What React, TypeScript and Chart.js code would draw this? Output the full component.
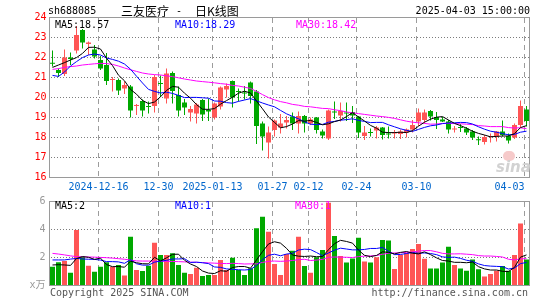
import React, { useEffect, useRef } from 'react';
import { Chart, registerables } from 'chart.js';

Chart.register(...registerables);

// ---------- data ----------
const DATES = [
  '2024-12-04','2024-12-05','2024-12-06','2024-12-09','2024-12-10','2024-12-11','2024-12-12','2024-12-13','2024-12-16','2024-12-17',
  '2024-12-18','2024-12-19','2024-12-20','2024-12-23','2024-12-24','2024-12-25','2024-12-26','2024-12-27','2024-12-30','2024-12-31',
  '2025-01-02','2025-01-03','2025-01-06','2025-01-07','2025-01-08','2025-01-09','2025-01-10','2025-01-13','2025-01-14','2025-01-15',
  '2025-01-16','2025-01-17','2025-01-20','2025-01-21','2025-01-22','2025-01-23','2025-01-24','2025-01-27','2025-02-05','2025-02-06',
  '2025-02-07','2025-02-10','2025-02-11','2025-02-12','2025-02-13','2025-02-14','2025-02-17','2025-02-18','2025-02-19','2025-02-20',
  '2025-02-21','2025-02-24','2025-02-25','2025-02-26','2025-02-27','2025-02-28','2025-03-03','2025-03-04','2025-03-05','2025-03-06',
  '2025-03-07','2025-03-10','2025-03-11','2025-03-12','2025-03-13','2025-03-14','2025-03-17','2025-03-18','2025-03-19','2025-03-20',
  '2025-03-21','2025-03-24','2025-03-25','2025-03-26','2025-03-27','2025-03-28','2025-03-31','2025-04-01','2025-04-02','2025-04-03',
];

const OPEN = [
  21.70, 21.35, 21.15, 21.98, 22.32, 23.35, 22.65, 22.38, 21.85, 21.60,
  20.85, 20.85, 20.43, 20.52, 19.55, 19.80, 19.55, 19.55, 20.70, 19.93,
  21.20, 20.10, 19.72, 19.22, 19.18, 19.85, 19.35, 18.98, 19.52, 20.38,
  20.80, 20.28, 20.20, 20.72, 20.27, 18.68, 17.72, 18.35, 18.48, 18.72,
  19.02, 18.68, 19.05, 18.68, 18.97, 18.27, 17.93, 19.25, 19.07, 19.20,
  19.25, 19.02, 18.05, 18.25, 18.32, 18.47, 18.15, 18.18, 18.15, 18.22,
  18.38, 18.77, 18.85, 19.30, 19.00, 18.88, 18.77, 18.37, 18.48, 18.43,
  18.27, 17.87, 17.75, 18.00, 18.02, 18.27, 18.05, 17.98, 18.60, 19.38,
];
const HIGH = [
  22.32, 21.43, 22.38, 22.22, 23.55, 23.40, 22.78, 22.60, 22.05, 22.20,
  21.00, 20.93, 20.77, 20.60, 19.65, 19.88, 19.77, 21.10, 21.08, 21.43,
  21.27, 20.52, 19.90, 19.55, 19.70, 19.90, 19.93, 19.72, 20.52, 20.68,
  20.82, 20.43, 20.55, 20.77, 20.35, 18.77, 18.52, 18.88, 19.15, 19.05,
  19.22, 19.27, 19.10, 18.98, 19.00, 18.37, 19.37, 19.77, 19.72, 19.72,
  19.55, 19.05, 18.55, 18.43, 18.55, 18.50, 18.52, 18.35, 18.37, 18.43,
  18.85, 19.43, 19.38, 19.35, 19.25, 19.00, 18.85, 18.55, 18.65, 18.50,
  18.35, 18.02, 18.10, 18.18, 18.30, 18.82, 18.18, 18.68, 19.82, 19.55,
];
const LOW = [
  21.52, 21.00, 21.05, 21.60, 22.18, 22.43, 22.10, 21.93, 21.35, 20.60,
  20.27, 20.10, 20.15, 18.97, 19.10, 19.02, 19.18, 19.22, 20.00, 19.68,
  19.68, 19.02, 19.10, 18.77, 18.68, 18.80, 18.80, 18.88, 19.38, 19.98,
  19.48, 19.77, 19.87, 19.68, 17.65, 17.32, 16.93, 18.02, 18.18, 18.43,
  18.35, 18.18, 18.22, 18.60, 18.18, 17.93, 17.85, 18.90, 18.77, 18.80,
  18.70, 17.95, 17.85, 18.02, 17.93, 17.88, 17.93, 17.93, 17.90, 17.98,
  18.22, 18.55, 18.68, 18.82, 18.40, 18.75, 18.18, 18.22, 18.25, 18.10,
  17.85, 17.60, 17.63, 17.72, 17.77, 18.02, 17.68, 17.90, 18.48, 18.52,
];
const CLOSE = [
  21.66, 21.20, 21.98, 21.90, 23.10, 22.72, 22.72, 22.02, 21.43, 20.80,
  20.88, 20.32, 20.60, 19.32, 19.60, 19.32, 19.50, 21.00, 20.65, 21.18,
  20.30, 19.32, 19.48, 19.40, 19.62, 19.12, 19.28, 19.68, 20.48, 20.55,
  19.98, 20.25, 20.17, 20.05, 18.55, 18.02, 18.22, 18.82, 18.68, 18.85,
  18.68, 19.05, 18.68, 18.88, 18.35, 18.07, 19.32, 19.22, 19.30, 19.17,
  19.08, 18.22, 18.22, 18.20, 18.47, 18.10, 18.12, 18.22, 18.27, 18.38,
  18.60, 19.23, 19.23, 19.02, 18.85, 18.77, 18.38, 18.40, 18.45, 18.22,
  17.98, 17.84, 18.00, 18.03, 18.28, 18.10, 17.82, 18.60, 19.55, 18.80,
];

const MA5 = [
  21.48, 21.60, 21.72, 21.85, 21.97, 22.18, 22.48, 22.49, 22.40, 21.94,
  21.57, 21.09, 20.81, 20.38, 20.14, 19.83, 19.67, 19.75, 20.01, 20.33,
  20.53, 20.49, 20.19, 19.94, 19.62, 19.39, 19.38, 19.42, 19.64, 19.82,
  19.99, 20.19, 20.29, 20.20, 19.80, 19.41, 19.00, 18.73, 18.46, 18.52,
  18.65, 18.82, 18.79, 18.83, 18.73, 18.61, 18.66, 18.77, 18.85, 19.02,
  19.22, 19.00, 18.80, 18.58, 18.44, 18.24, 18.22, 18.22, 18.24, 18.22,
  18.32, 18.54, 18.74, 18.89, 18.99, 19.02, 18.85, 18.68, 18.57, 18.44,
  18.29, 18.18, 18.10, 18.01, 18.03, 18.05, 18.05, 18.17, 18.47, 18.57,
];
const MA10 = [
  21.08, 21.03, 21.25, 21.55, 21.77, 21.97, 22.10, 22.15, 22.10, 21.95,
  21.88, 21.79, 21.65, 21.39, 21.04, 20.70, 20.38, 20.28, 20.20, 20.24,
  20.18, 20.08, 19.97, 19.98, 19.98, 19.96, 19.94, 19.80, 19.79, 19.72,
  19.69, 19.78, 19.85, 19.92, 19.81, 19.70, 19.60, 19.51, 19.33, 19.16,
  19.03, 18.91, 18.76, 18.64, 18.62, 18.63, 18.74, 18.78, 18.84, 18.87,
  18.91, 18.83, 18.78, 18.72, 18.73, 18.73, 18.61, 18.51, 18.41, 18.33,
  18.28, 18.38, 18.48, 18.56, 18.60, 18.67, 18.70, 18.71, 18.73, 18.72,
  18.65, 18.51, 18.39, 18.29, 18.24, 18.17, 18.11, 18.13, 18.24, 18.29,
];
const MA30 = [
  21.38, 21.42, 21.48, 21.52, 21.55, 21.60, 21.63, 21.66, 21.68, 21.67,
  21.63, 21.55, 21.45, 21.36, 21.28, 21.20, 21.15, 21.12, 21.10, 21.06,
  21.02, 20.96, 20.90, 20.85, 20.80, 20.77, 20.74, 20.71, 20.67, 20.64,
  20.58, 20.55, 20.49, 20.43, 20.28, 20.12, 19.97, 19.86, 19.77, 19.71,
  19.63, 19.59, 19.53, 19.51, 19.47, 19.43, 19.42, 19.36, 19.32, 19.25,
  19.21, 19.17, 19.13, 19.09, 19.05, 19.02, 18.98, 18.93, 18.86, 18.79,
  18.74, 18.71, 18.68, 18.64, 18.65, 18.68, 18.68, 18.67, 18.66, 18.64,
  18.62, 18.57, 18.55, 18.52, 18.52, 18.52, 18.47, 18.45, 18.46, 18.42,
];

// volume in 万手
const VOLUME = [
  1.31, 1.62, 1.71, 0.88, 3.93, 2.02, 1.38, 0.95, 1.31, 1.62,
  1.31, 1.43, 0.67, 3.45, 1.07, 1.00, 1.38, 3.02, 2.14, 2.14,
  2.26, 1.43, 0.88, 0.79, 1.24, 0.64, 0.71, 0.71, 1.79, 1.07,
  1.95, 1.07, 0.71, 1.19, 4.05, 4.88, 3.81, 1.50, 0.71, 2.21,
  2.45, 3.45, 1.36, 0.88, 1.98, 2.50, 5.88, 3.50, 2.07, 1.60,
  1.90, 3.38, 1.67, 1.60, 1.98, 3.21, 3.17, 1.14, 2.14, 2.31,
  2.57, 2.93, 1.88, 1.17, 1.17, 1.60, 2.74, 1.43, 1.17, 1.02,
  1.83, 1.12, 0.60, 0.79, 1.02, 1.36, 1.02, 2.14, 4.40, 1.83,
];
const VMA5 = [
  1.43, 1.45, 1.43, 1.40, 1.89, 2.03, 1.98, 1.83, 1.92, 1.46,
  1.31, 1.32, 1.27, 1.70, 1.59, 1.52, 1.51, 1.98, 1.72, 1.94,
  2.19, 2.20, 1.77, 1.50, 1.32, 1.00, 0.85, 0.82, 1.02, 0.98,
  1.25, 1.32, 1.32, 1.20, 1.79, 2.38, 2.93, 3.09, 2.99, 2.62,
  2.14, 2.06, 2.04, 2.07, 2.02, 2.03, 2.52, 2.95, 3.19, 3.11,
  2.99, 2.49, 2.12, 2.03, 2.11, 2.37, 2.33, 2.22, 2.33, 2.39,
  2.27, 2.22, 2.37, 2.17, 1.94, 1.75, 1.71, 1.62, 1.62, 1.59,
  1.64, 1.31, 1.15, 1.07, 1.07, 0.98, 0.96, 1.26, 1.99, 2.15,
];
const VMA10 = [
  1.79, 1.79, 1.79, 1.85, 1.90, 1.86, 1.84, 1.83, 1.78, 1.67,
  1.67, 1.65, 1.55, 1.81, 1.52, 1.42, 1.42, 1.63, 1.71, 1.76,
  1.86, 1.86, 1.88, 1.61, 1.63, 1.59, 1.53, 1.29, 1.26, 1.15,
  1.12, 1.09, 1.07, 1.11, 1.39, 1.81, 2.12, 2.20, 2.09, 2.21,
  2.26, 2.50, 2.56, 2.53, 2.32, 2.09, 2.29, 2.49, 2.63, 2.57,
  2.51, 2.51, 2.54, 2.61, 2.61, 2.68, 2.41, 2.17, 2.18, 2.25,
  2.32, 2.27, 2.29, 2.25, 2.17, 2.01, 1.97, 1.99, 1.90, 1.77,
  1.69, 1.51, 1.39, 1.35, 1.33, 1.31, 1.14, 1.21, 1.53, 1.61,
];
const VMA30 = [
  2.26, 2.21, 2.15, 2.08, 2.03, 2.01, 2.00, 1.99, 1.97, 1.95,
  1.92, 1.88, 1.84, 1.78, 1.72, 1.71, 1.71, 1.70, 1.70, 1.69,
  1.68, 1.67, 1.65, 1.63, 1.62, 1.60, 1.58, 1.56, 1.54, 1.53,
  1.55, 1.53, 1.50, 1.51, 1.51, 1.61, 1.69, 1.71, 1.69, 1.71,
  1.75, 1.81, 1.84, 1.75, 1.78, 1.83, 1.98, 2.00, 1.99, 1.98,
  1.96, 2.03, 2.06, 2.08, 2.11, 2.19, 2.27, 2.29, 2.30, 2.34,
  2.36, 2.42, 2.46, 2.46, 2.37, 2.26, 2.22, 2.22, 2.23, 2.20,
  2.17, 2.10, 2.07, 2.07, 2.04, 2.00, 1.84, 1.79, 1.87, 1.88,
];

const TICK_DATES = ['2024-12-16', '2024-12-30', '2025-01-13', '2025-01-27', '2025-02-12', '2025-02-24', '2025-03-10', '2025-04-03'];
const TICK_TEXT = ['2024-12-16', '12-30', '2025-01-13', '01-27', '02-12', '02-24', '03-10', '04-03'];

const STOCK_CODE = 'sh688085';
const STOCK_NAME = '三友医疗';
const CHART_KIND = '日K线图';
const TIMESTAMP = '2025-04-03 15:00:00';

// ---------- styling ----------
const UP = '#ff5555';
const DOWN = '#00a800';
const MONO = '"DejaVu Sans Mono", "Liberation Mono", "Noto Sans CJK SC", monospace';
const CJK = '"Noto Sans CJK SC", sans-serif';
const DOT_GRID = '#7c7c7c';
const DASH_GRID = '#9c9c9c';

const candleColors = CLOSE.map((c, i) => (c >= OPEN[i] ? UP : DOWN));

// grid drawn as pixel-aligned rectangles (dots and dashes), then the frame
function drawGrid(chart: any) {
  const { ctx, chartArea: a, scales } = chart;
  const xs = scales.x;
  const ys = scales.y;
  const left = Math.round(a.left - 0.5);
  const right = Math.round(a.right - 0.5);
  const top = Math.floor(a.top);
  const bottom = Math.floor(a.bottom);
  ctx.save();
  ctx.fillStyle = DOT_GRID;
  ys.ticks.forEach((t: any) => {
    const py = Math.floor(ys.getPixelForValue(t.value));
    if (py <= top || py >= bottom) return;
    for (let px = left + 2; px < right; px += 3) ctx.fillRect(px, py, 1, 1);
  });
  ctx.fillStyle = DASH_GRID;
  DATES.forEach((d, i) => {
    if (i === 0 || TICK_DATES.indexOf(d) < 0) return;
    const px = Math.floor(xs.getPixelForValue(i) - 2.5);
    for (let py = top + 1; py < bottom; py += 9) ctx.fillRect(px, py, 1, Math.min(5, bottom - py));
  });
  ctx.fillStyle = '#9a9a9a';
  ctx.fillRect(left, top, right - left + 1, 1);
  ctx.fillRect(left, bottom, right - left + 1, 1);
  ctx.fillRect(left, top, 1, bottom - top + 1);
  ctx.fillRect(right, top, 1, bottom - top + 1);
  ctx.restore();
}

const gridPlugin = {
  id: 'sinaGrid',
  beforeDatasetsDraw(chart: any) {
    drawGrid(chart);
  },
};

function xScale(showLabels: boolean, height: number) {
  return {
    type: 'category',
    offset: true,
    grid: { display: false, drawTicks: false },
    border: { display: false },
    ticks: showLabels
      ? {
          autoSkip: false,
          maxRotation: 0,
          minRotation: 0,
          padding: 4,
          labelOffset: -2,
          color: '#0066cc',
          font: { family: MONO, size: 10 },
          callback: (_v: any, i: number) => {
            const k = TICK_DATES.indexOf(DATES[i]);
            if (k < 0) return '';
            return i === DATES.length - 1 ? TICK_TEXT[k] + '     ' : TICK_TEXT[k];
          },
        }
      : { display: false },
    afterFit: (s: any) => {
      s.height = height;
      s.paddingLeft = 0;
      s.paddingRight = 0;
    },
  };
}

function yScale(min: number, max: number, step: number, color: string, pad: number, cb?: (v: any) => string) {
  const ticks: any = { stepSize: step, color, font: { family: MONO, size: 10 }, padding: pad };
  if (cb) ticks.callback = cb;
  return {
    min,
    max,
    ticks,
    grid: { display: false, drawTicks: false },
    border: { display: false },
    afterFit: (s: any) => {
      s.width = 49;
      s.paddingTop = 0;
      s.paddingBottom = 0;
    },
  };
}

function lineSet(label: string, data: number[], color: string) {
  return {
    type: 'line',
    label,
    data,
    borderColor: color,
    backgroundColor: color,
    borderWidth: 1,
    pointRadius: 0,
    tension: 0,
    fill: false,
    order: 0,
  };
}

function priceConfig(): any {
  return {
    type: 'bar',
    data: {
      labels: DATES,
      datasets: [
        lineSet('MA5', MA5, '#000000'),
        lineSet('MA10', MA10, '#0000ff'),
        lineSet('MA30', MA30, '#ff00ff'),
        {
          type: 'bar',
          label: 'body',
          data: OPEN.map((o, i) => [Math.min(o, CLOSE[i]), Math.max(o, CLOSE[i])]),
          backgroundColor: candleColors,
          barThickness: 5,
          grouped: false,
          minBarLength: 1,
          inflateAmount: 0,
          borderWidth: 0,
          order: 1,
        },
        {
          type: 'bar',
          label: 'wick',
          data: LOW.map((l, i) => [l, HIGH[i]]),
          backgroundColor: candleColors,
          barThickness: 1,
          grouped: false,
          inflateAmount: 0,
          borderWidth: 0,
          order: 2,
        },
      ],
    },
    options: {
      responsive: false,
      animation: false,
      events: [],
      layout: { padding: { top: 17, right: 15.5, bottom: 0, left: 0.5 }, autoPadding: false },
      plugins: { legend: { display: false }, tooltip: { enabled: false } },
      scales: {
        x: xScale(true, 18),
        y: yScale(16, 24, 1, '#ff0000', 3),
      },
    },
    plugins: [gridPlugin],
  };
}

function volumeConfig(): any {
  return {
    type: 'bar',
    data: {
      labels: DATES,
      datasets: [
        lineSet('MA5', VMA5, '#000000'),
        lineSet('MA10', VMA10, '#0000ff'),
        lineSet('MA30', VMA30, '#ff00ff'),
        {
          type: 'bar',
          label: 'volume',
          data: VOLUME,
          backgroundColor: candleColors,
          barThickness: 5,
          grouped: false,
          inflateAmount: 0,
          borderWidth: 0,
          order: 1,
        },
      ],
    },
    options: {
      responsive: false,
      animation: false,
      events: [],
      layout: { padding: { top: 6, right: 15.5, bottom: 0, left: 0.5 }, autoPadding: false },
      plugins: { legend: { display: false }, tooltip: { enabled: false } },
      scales: {
        x: xScale(false, 15),
        y: yScale(0, 6, 2, '#999999', 4, (v: any) => (Number(v) === 0 ? 'x万' : String(v))),
      },
    },
    plugins: [gridPlugin],
  };
}

type TextProps = {
  x?: number;
  right?: number;
  y: number;
  color?: string;
  size?: number;
  family?: string;
  style?: React.CSSProperties;
  children: React.ReactNode;
};

function T({ x, right, y, color = '#000', size = 10, family = MONO, style, children }: TextProps) {
  const pos: React.CSSProperties = right !== undefined ? { right: 545 - right } : { left: x };
  return (
    <div
      style={{
        position: 'absolute',
        top: y - 7,
        height: 14,
        lineHeight: '14px',
        fontSize: size,
        fontFamily: family,
        color,
        whiteSpace: 'pre',
        pointerEvents: 'none',
        ...pos,
        ...style,
      }}
    >
      {children}
    </div>
  );
}

const last = (a: number[]) => a[a.length - 1];

export default function App() {
  const priceRef = useRef<HTMLCanvasElement>(null);
  const volRef = useRef<HTMLCanvasElement>(null);

  useEffect(() => {
    const c1 = new Chart(priceRef.current as HTMLCanvasElement, priceConfig());
    const c2 = new Chart(volRef.current as HTMLCanvasElement, volumeConfig());
    return () => {
      c1.destroy();
      c2.destroy();
    };
  }, []);

  return (
    <div
      style={{
        position: 'fixed',
        left: 0,
        top: 0,
        width: 545,
        height: 300,
        background: '#ffffff',
        overflow: 'hidden',
      }}
    >
      <canvas ref={priceRef} width={545} height={195} style={{ position: 'absolute', left: 0, top: 0 }} />
      <canvas ref={volRef} width={545} height={105} style={{ position: 'absolute', left: 0, top: 195 }} />

      {/* header */}
      <T x={48} y={11}>{STOCK_CODE}</T>
      <T x={121} y={11} size={12} family={CJK}>{STOCK_NAME}</T>
      <T x={176} y={11}>-</T>
      <T x={195} y={11} size={12} family={CJK}>{CHART_KIND}</T>
      <T right={530} y={11}>{TIMESTAMP}</T>

      {/* price legend */}
      <T x={55} y={25} color="#000000">{`MA5:${last(MA5).toFixed(2)}`}</T>
      <T x={175} y={25} color="#0000ff">{`MA10:${last(MA10).toFixed(2)}`}</T>
      <T x={296} y={25} color="#ff00ff">{`MA30:${last(MA30).toFixed(2)}`}</T>

      {/* watermark */}
      <div
        style={{
          position: 'absolute',
          left: 503,
          top: 151,
          width: 12,
          height: 10,
          borderRadius: 6,
          background: '#f6caca',
          pointerEvents: 'none',
        }}
      />
      <T x={496} y={167} color="#d2d2d2" size={15} family='"DejaVu Sans", sans-serif' style={{ fontStyle: 'italic', fontWeight: 'bold' }}>
        sina
      </T>

      {/* volume legend */}
      <T x={55} y={206} color="#000000">{`MA5:${Math.floor(last(VMA5))}`}</T>
      <T x={175} y={206} color="#0000ff">{`MA10:${Math.floor(last(VMA10))}`}</T>
      <T x={295} y={206} color="#ff00ff">{`MA30:${Math.floor(last(VMA30))}`}</T>

      {/* footer */}
      <T x={50} y={293} color="#555555">Copyright 2025 SINA.COM</T>
      <T right={528} y={293} color="#555555">http://finance.sina.com.cn</T>
    </div>
  );
}
